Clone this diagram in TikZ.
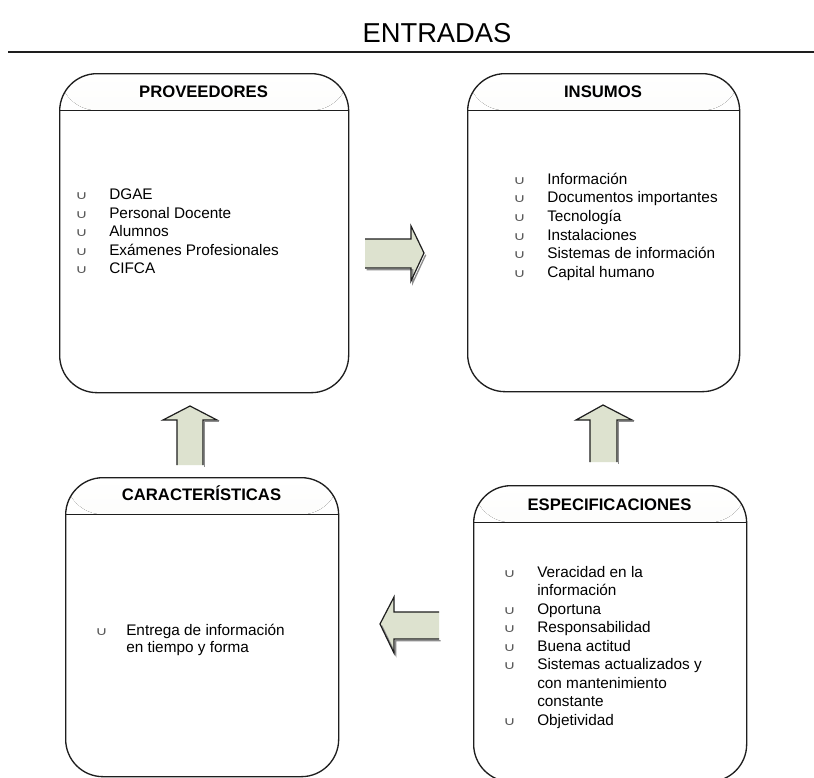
\documentclass[tikz,border=0pt]{standalone}
\usepackage{fontspec}
\usepackage{graphicx}
\setmainfont{Liberation Sans}
\newfontfamily\symfont{DejaVu Sans}
\definecolor{hdr}{RGB}{234,234,226}
\definecolor{arrfill}{RGB}{221,226,207}
\definecolor{bulc}{RGB}{90,90,90}
\definecolor{edge}{RGB}{30,30,30}

% bullet mark and one list entry with hanging indent
\newcommand\bul{{\symfont\fontsize{11}{11}\selectfont\color{bulc}\scalebox{1.15}[0.8]{∪}}}
\newcommand\itemrow[2][25.5pt]{\par\hangindent=#1\hangafter=1\noindent\makebox[#1][l]{\bul}#2}

\tikzset{
  panel/.style={draw=edge, line width=1pt, rounded corners=28pt,
    anchor=north west, inner sep=0pt,
    path picture={
      \fill[top color=white, bottom color=hdr]
        (path picture bounding box.north west) rectangle
        ([yshift=-27.5pt]path picture bounding box.north east);
      \draw[edge, line width=1pt]
        ([yshift=-27.5pt]path picture bounding box.north west) --
        ([yshift=-27.5pt]path picture bounding box.north east);
    }},
  paneltitle/.style={anchor=base, inner sep=0pt,
    font=\fontsize{12.5}{15}\selectfont\bfseries},
  listtext/.style={anchor=base west, inner sep=0pt, align=left},
  blockfill/.style={fill=arrfill, draw=none},
  blockshadow/.style={draw=black!45, line width=1pt, xshift=1.3pt, yshift=-1.3pt, line join=miter},
  blockedge/.style={draw=edge, line width=0.9pt, line join=miter},
}

\begin{document}
\begin{tikzpicture}[x=0.75pt, y=-0.75pt]
\useasboundingbox[fill=white] (0,0) rectangle (814,778);

% heading and rule
\node[anchor=base, inner sep=0pt, font=\fontsize{20.5}{24}\selectfont] (title) at (437,42) {ENTRADAS};
\coordinate (ruleL) at (8,52);
\coordinate (ruleR) at (814,52);
\draw[edge, line width=1.4pt] (ruleL) -- (ruleR);

% four panels
\node[panel, minimum width=216.75pt, minimum height=239.25pt] (prov) at (59,73) {};
\node[panel, minimum width=204pt, minimum height=238.5pt] (insu) at (467,73) {};
\node[panel, minimum width=204.75pt, minimum height=224.25pt] (cara) at (65,477) {};
\node[panel, minimum width=204.75pt, minimum height=222pt] (espe) at (473,485) {};

% panel titles
\node[paneltitle] (provT) at (203.5,97.3) {PROVEEDORES};
\node[paneltitle] (insuT) at (603,97.3) {INSUMOS};
\node[paneltitle] (caraT) at (201.5,500.7) {CARACTERÍSTICAS};
\node[paneltitle] (espeT) at (609.5,510) {ESPECIFICACIONES};

% panel contents (\newline keeps the hanging indent inside an entry)
\node[listtext] (provL) at (75,199.5) {\parbox[t]{200pt}{\raggedright\fontsize{11.5}{13.875}\selectfont
  \itemrow{DGAE}
  \itemrow{Personal Docente}
  \itemrow{Alumnos}
  \itemrow{Exámenes Profesionales}
  \itemrow{CIFCA}}};
\node[listtext] (insuL) at (513,184) {\parbox[t]{200pt}{\raggedright\fontsize{11.5}{14}\selectfont
  \itemrow{Información}
  \itemrow{Documentos importantes}
  \itemrow{Tecnología}
  \itemrow{Instalaciones}
  \itemrow{Sistemas de información}
  \itemrow{Capital humano}}};
\node[listtext] (caraL) at (95,635) {\parbox[t]{200pt}{\raggedright\fontsize{11.5}{12.75}\selectfont
  \itemrow[23.25pt]{Entrega de información\newline en tiempo y forma}}};
\node[listtext] (espeL) at (503,577) {\parbox[t]{200pt}{\raggedright\fontsize{11.5}{13.875}\selectfont
  \itemrow{Veracidad en la\newline información}
  \itemrow{Oportuna}
  \itemrow{Responsabilidad}
  \itemrow{Buena actitud}
  \itemrow{Sistemas actualizados y\newline con mantenimiento\newline constante}
  \itemrow{Objetividad}}};

% block arrows between the panels
% right-pointing
\path[blockfill] (365,239) -- (411,239) -- (411,226) -- (424,253) -- (411,281) -- (411,268) -- (365,268) -- cycle;
\draw[blockshadow] (365,268) -- (411,268) -- (411,281) -- (424,253);
\draw[blockedge] (365,239) -- (411,239) -- (411,226) -- (424,253) -- (411,281) -- (411,268) -- (365,268);
% up, left column
\path[blockfill] (177,465) -- (177,420) -- (163,420) -- (190,406) -- (217,420) -- (203,420) -- (203,465) -- cycle;
\draw[blockshadow] (203,465) -- (203,420) -- (217,420);
\draw[blockedge] (177,465) -- (177,420) -- (163,420) -- (190,406) -- (217,420) -- (203,420) -- (203,465);
% up, right column
\path[blockfill] (590,462) -- (590,420) -- (576,420) -- (603,405) -- (632,420) -- (617,420) -- (617,462) -- cycle;
\draw[blockshadow] (617,462) -- (617,420) -- (632,420);
\draw[blockedge] (590,462) -- (590,420) -- (576,420) -- (603,405) -- (632,420) -- (617,420) -- (617,462);
% left-pointing
\path[blockfill] (439,612) -- (394,612) -- (394,597) -- (380,624) -- (394,653) -- (394,639) -- (439,639) -- cycle;
\draw[blockshadow] (380,624) -- (394,653) -- (394,639) -- (439,639);
\draw[blockedge] (439,612) -- (394,612) -- (394,597) -- (380,624) -- (394,653) -- (394,639) -- (439,639);
\end{tikzpicture}
\end{document}
